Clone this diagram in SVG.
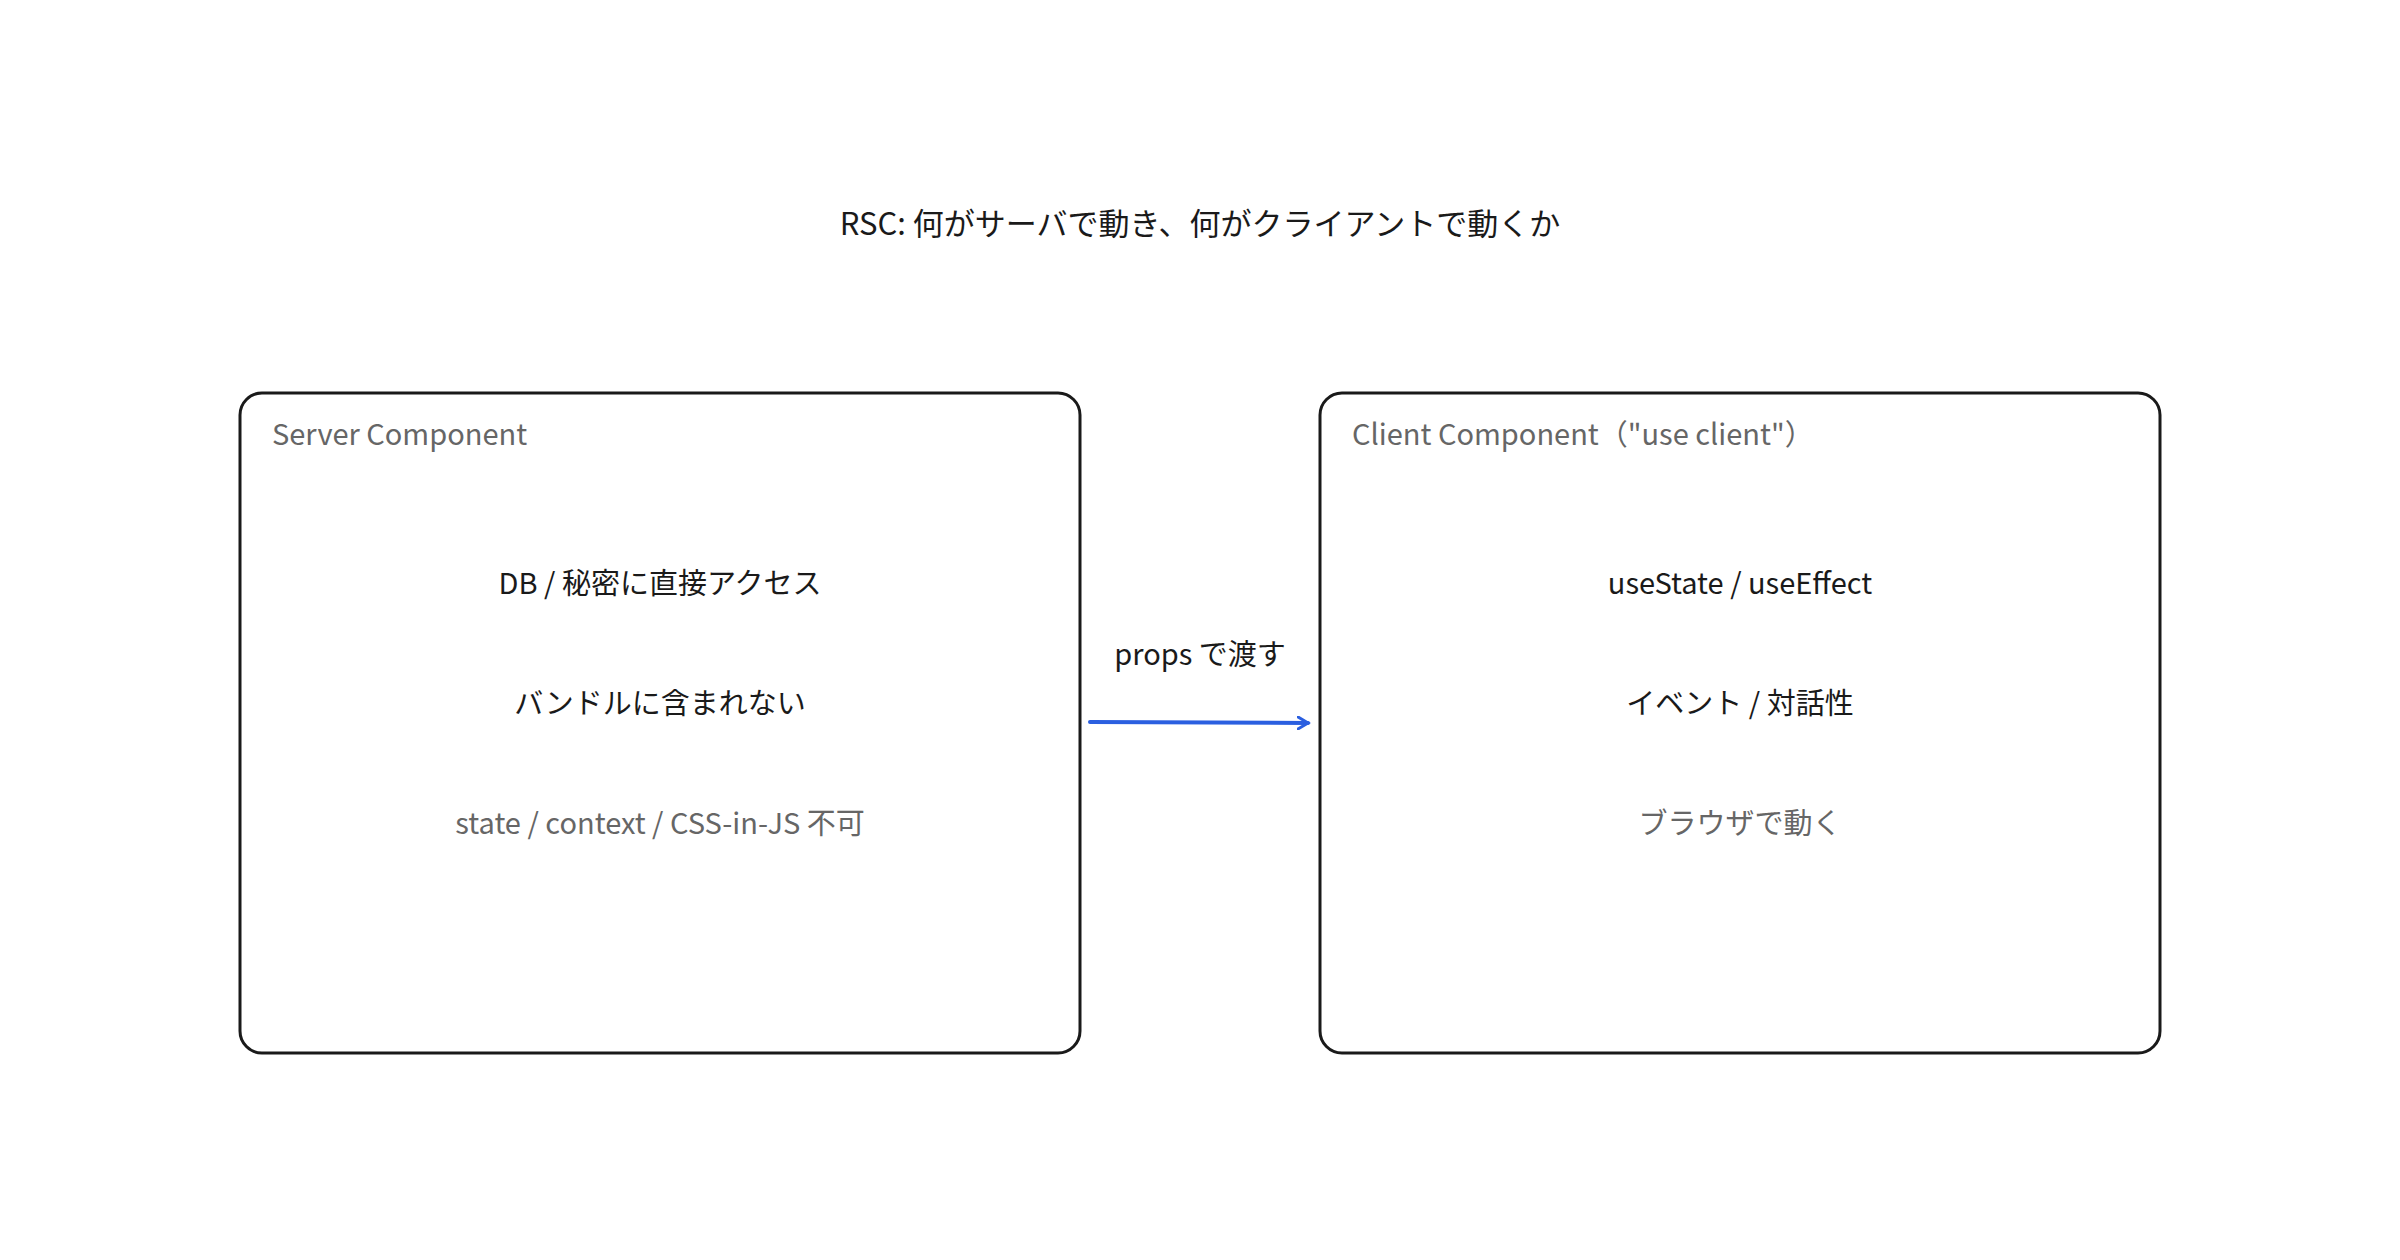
<svg xmlns="http://www.w3.org/2000/svg" width="2400" height="1260" viewBox="0 0 2400 1260">
<style>
text{font-family:"Noto Sans CJK JP","Noto Sans",sans-serif;}
.box{fill:#fff;stroke:#1a1a1a;stroke-width:3}
.hdr{font-size:29px;fill:#666}
.t{font-size:29px;fill:#1a1a1a;text-anchor:middle}
.g{font-size:29px;fill:#666;text-anchor:middle}
</style>
<defs>
<marker id="ah" markerWidth="14" markerHeight="14" refX="11" refY="7" orient="auto" markerUnits="userSpaceOnUse">
<path d="M1,1 L11,7 L1,13" fill="none" stroke="#2b5fe0" stroke-width="3" stroke-linecap="round"/>
</marker>
</defs>
<rect width="2400" height="1260" fill="#fff"/>
<text x="1200" y="235" class="t" style="font-size:31px">RSC: 何がサーバで動き、何がクライアントで動くか</text>
<g id="server">
<rect class="box" x="240" y="393" width="840" height="660" rx="22"/>
<text x="272" y="445" class="hdr">Server Component</text>
<text x="660" y="594" class="t">DB / 秘密に直接アクセス</text>
<text x="660" y="714" class="t">バンドルに含まれない</text>
<text x="660" y="834" class="g">state / context / CSS-in-JS 不可</text>
</g>
<g id="client">
<rect class="box" x="1320" y="393" width="840" height="660" rx="22"/>
<text x="1352" y="445" class="hdr">Client Component（"use client"）</text>
<text x="1740" y="594" class="t">useState / useEffect</text>
<text x="1740" y="714" class="t">イベント / 対話性</text>
<text x="1740" y="834" class="g">ブラウザで動く</text>
</g>
<g id="connectors">
<line x1="1090" y1="722" x2="1308" y2="723" stroke="#2b5fe0" stroke-width="4" stroke-linecap="round" marker-end="url(#ah)"/>
<text x="1200" y="665" class="t">props で渡す</text>
</g>
</svg>
